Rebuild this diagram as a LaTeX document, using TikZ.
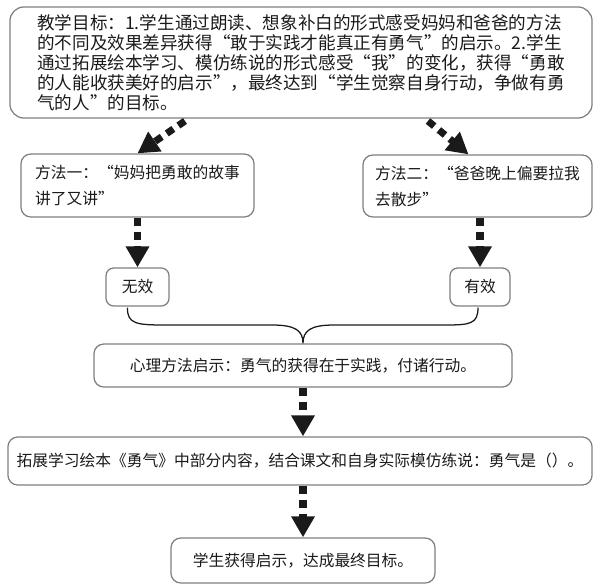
\documentclass[tikz,border=0pt]{standalone}
\usepackage{fontspec}
\setmainfont{Noto Sans CJK SC}
\usetikzlibrary{arrows.meta,calc}
\definecolor{boxgray}{HTML}{808080}
\definecolor{inkblack}{HTML}{1A1A1A}
\begin{document}
\begin{tikzpicture}[x=0.025cm,y=-0.025cm,
   			box/.style={draw=boxgray,line width=0.9pt,rounded corners=7pt,text=inkblack,inner sep=0pt,
   				font=\fontsize{11.2pt}{14pt}\selectfont},
   			dotarrow/.style={draw=inkblack,line width=5pt,dash pattern=on 5.7pt off 4.3pt,
   				-{Triangle[length=15pt,width=16pt]}},
   			bracepath/.style={draw=inkblack,line width=0.9pt}]
   			\useasboundingbox (0,0) rectangle (600,585);
   			% Teaching goal (top box)
   			\node[box,rounded corners=10pt,minimum width=14.55cm,minimum height=2.775cm,align=left,
   				font=\fontsize{12.5pt}{14.2pt}\selectfont] (goal) at (301,62.5)
   				{教学目标：1.学生通过朗读、想象补白的形式感受妈妈和爸爸的方法\\
   				的不同及效果差异获得“敢于实践才能真正有勇气”的启示。2.学生\\
   				通过拓展绘本学习、模仿练说的形式感受“我”的变化，获得“勇敢\\
   				的人能收获美好的启示”，最终达到“学生觉察自身行动，争做有勇\\
   				气的人”的目标。};
   			% --- the two methods ---
   			\node[box,minimum width=5.825cm,minimum height=1.575cm,align=left,
   				font=\fontsize{11.2pt}{18.5pt}\selectfont] (method1) at (137.5,185.5)
   				{方法一：“妈妈把勇敢的故事\\讲了又讲”};
   			\node[box,minimum width=5.725cm,minimum height=1.55cm,align=left,
   				font=\fontsize{11.2pt}{18.5pt}\selectfont] (method2) at (477.5,186)
   				{方法二：“爸爸晚上偏要拉我\\去散步”};
   			% results
   			\node[box,rounded corners=5.5pt,minimum width=1.575cm,minimum height=0.95cm] (wuxiao) at (137.5,287) {无效};
   			\node[box,rounded corners=5.5pt,minimum width=1.5cm,minimum height=0.95cm] (youxiao) at (480,287) {有效};
   			% --- insight, extension and final goal ---
   			\node[box,minimum width=10.45cm,minimum height=1.075cm] (xinli) at (303,365.5)
   				{心理方法启示：勇气的获得在于实践，付诸行动。};
   			\node[box,minimum width=14.6cm,minimum height=1.2cm] (tuozhan) at (300,461)
   				{拓展学习绘本《勇气》中部分内容，结合课文和自身实际模仿练说：勇气是（）。};
   			\node[box,minimum width=6.6cm,minimum height=1.125cm] (final) at (303,560.5)
   				{学生获得启示，达成最终目标。};
   			% dotted arrows
   			\coordinate (goalL) at (185,121);
   			\coordinate (goalR) at (428,121);
   			\draw[dotarrow] (goalL) -- (method1.north);
   			\draw[dotarrow] (goalR) -- ($(method2.north)+(-9,0)$);
   			\draw[dotarrow] (method1.south -| wuxiao.north) -- (wuxiao.north);
   			\draw[dotarrow] (method2.south -| youxiao.north) -- (youxiao.north);
   			\draw[dotarrow] (xinli.south) -- (xinli.south |- tuozhan.north);
   			\draw[dotarrow] (tuozhan.south -| final.north) -- (final.north);
   			% brace joining both results
   			\coordinate (braceL) at ($(wuxiao.south)+(-10,1)$);
   			\coordinate (braceR) at ($(youxiao.south)+(-2,1)$);
   			\draw[bracepath] (braceL) .. controls (127,324) and (137,325) .. (165,325) -- (272,325)
   				.. controls (296,325) and (303,331) .. (xinli.north)
   				.. controls (303,331) and (310,325) .. (334,325) -- (445,325)
   				.. controls (470,325) and (478,324) .. (braceR);
 			\end{tikzpicture}
\end{document}
